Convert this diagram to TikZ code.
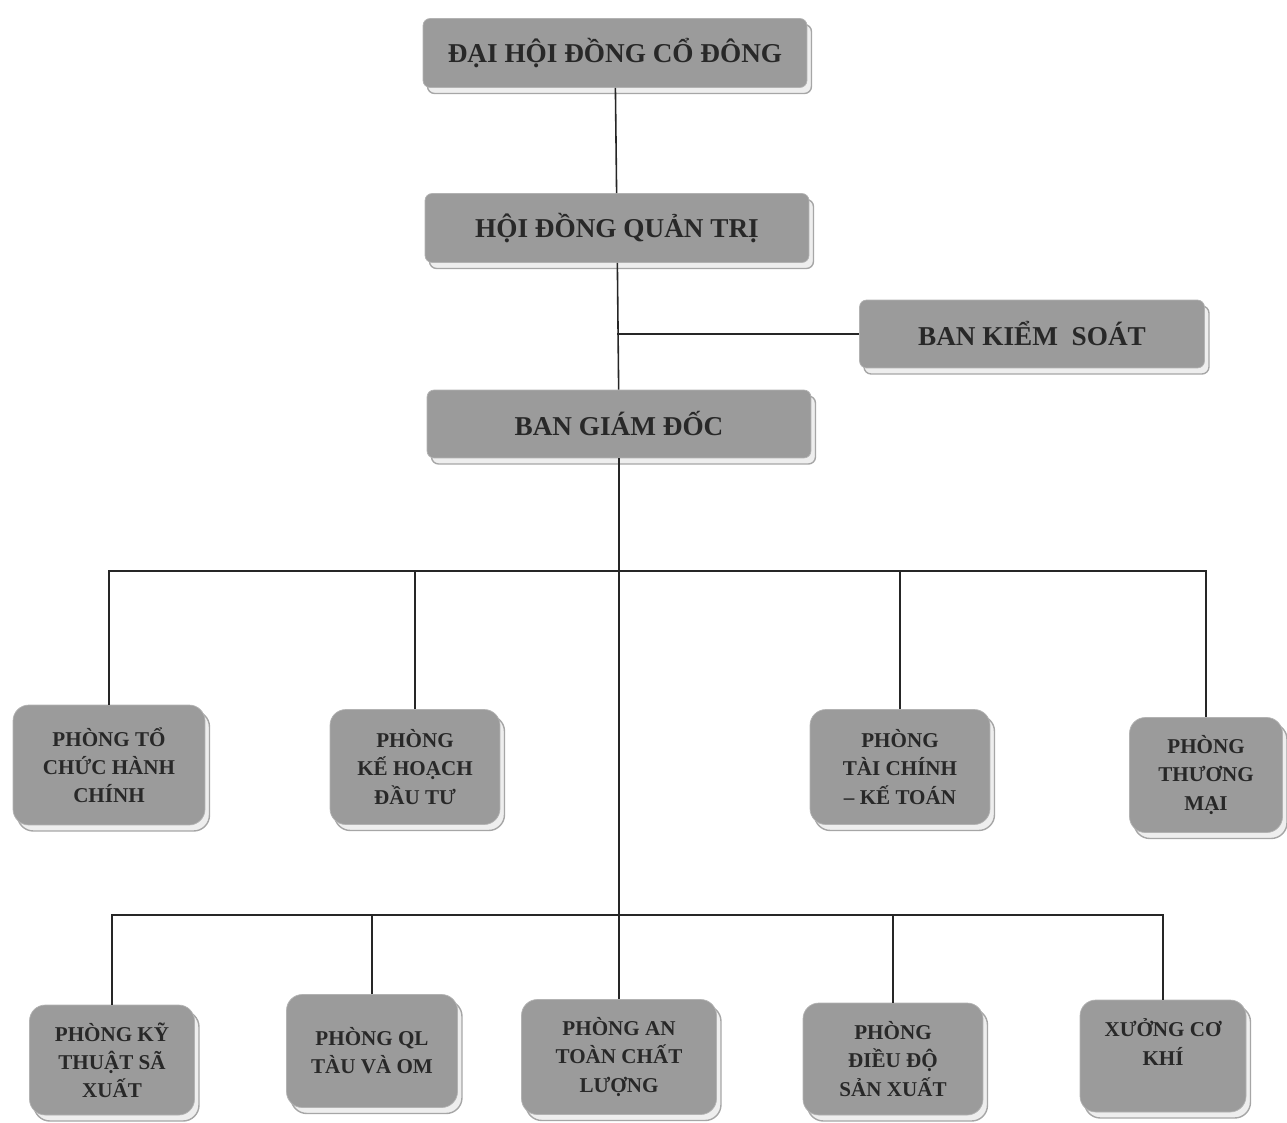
\documentclass[tikz,border=0pt]{standalone}
\usepackage{fontspec}
\setmainfont{Liberation Serif}
\usetikzlibrary{%
	calc,%
	shadows,%
	positioning,%
}
\definecolor{cboxgray}{RGB}{155, 155, 155}
\definecolor{ctext}{RGB}{40, 40, 40}
\definecolor{cshadow}{RGB}{238, 238, 238}
\tikzset{
	nodes={align=center},%
	unit/.style={%
			draw=gray!60,%
			rectangle,%
			rounded corners=4pt,%
			fill=cboxgray,%
			text=ctext,%
			font={\bfseries},%
			copy shadow={shadow xshift=0.09cm, shadow yshift=-0.12cm,%
					fill=cshadow, draw=gray!70, line width=0.8pt}},%
	headunit/.style={%
			unit,%
			minimum height=1.38cm,%
			font={\fontsize{15.5}{19}\selectfont\bfseries}},%
	deptunit/.style={%
			unit,%
			rounded corners=9pt,%
			font={\fontsize{12}{16}\selectfont\bfseries}},%
	link/.style={%
			draw=black!85,%
			line width=0.9pt},%
}

\begin{document}
\begin{tikzpicture}[x=0.02cm, y=-0.02cm]%
	\useasboundingbox (0,0) rectangle (1287,1122);

	% top of the chart
	\node[headunit, minimum width=7.68cm] (dhdcd) at (615,53) {ĐẠI HỘI ĐỒNG CỔ ĐÔNG};
	\node[headunit, minimum width=7.68cm] (hdqt) at (617,228) {HỘI ĐỒNG QUẢN TRỊ};
	\node[headunit, minimum width=6.9cm, minimum height=1.36cm] (bks) at (1032,334) {BAN KIỂM\ \ SOÁT};
	\node[headunit, minimum width=7.68cm, minimum height=1.36cm] (bgd) at (619,424) {BAN GIÁM ĐỐC};

	% first row of departments
	\node[deptunit, minimum width=3.84cm, minimum height=2.4cm] (tchc) at (109,765) {PHÒNG TỔ\\CHỨC HÀNH\\CHÍNH};
	\node[deptunit, minimum width=3.4cm, minimum height=2.3cm] (khdt) at (415,767) {PHÒNG\\KẾ HOẠCH\\ĐẦU TƯ};
	\node[deptunit, minimum width=3.6cm, minimum height=2.3cm] (tckt) at (900,767) {PHÒNG\\TÀI CHÍNH\\– KẾ TOÁN};
	\node[deptunit, minimum width=3.06cm, minimum height=2.3cm] (tm) at (1206,775) {PHÒNG\\THƯƠNG\\MẠI};

	% second row of departments
	\node[deptunit, minimum width=3.3cm, minimum height=2.2cm] (ktsx) at (112,1060) {PHÒNG KỸ\\THUẬT SÃ\\XUẤT};
	\node[deptunit, minimum width=3.42cm, minimum height=2.26cm] (qltau) at (372,1051) {PHÒNG QL\\TÀU VÀ OM};
	\node[deptunit, minimum width=3.9cm, minimum height=2.3cm] (atcl) at (619,1057) {PHÒNG AN\\TOÀN CHẤT\\LƯỢNG};
	\node[deptunit, minimum width=3.6cm, minimum height=2.24cm] (ddsx) at (893,1059) {PHÒNG\\ĐIỀU ĐỘ\\SẢN XUẤT};
	\node[deptunit, minimum width=3.32cm, minimum height=2.24cm] (xck) at (1163,1056) {XƯỞNG CƠ\\KHÍ\\[0pt]};

	\coordinate (busA) at (619,571);
	\coordinate (busB) at (619,915);

	\draw[link] (dhdcd) to (hdqt);
	\draw[link] (hdqt) to (bgd);
	\draw[link] (bks.west) to (bks.west -| hdqt.south);
	\draw[link] (bgd) to (atcl);
	\draw[link] (tchc.north) to (tchc.north |- busA) -| (tm.north);
	\draw[link] (khdt.north) to (khdt.north |- busA);
	\draw[link] (tckt.north) to (tckt.north |- busA);
	\draw[link] (ktsx.north) to (ktsx.north |- busB) -| (xck.north);
	\draw[link] (qltau.north) to (qltau.north |- busB);
	\draw[link] (ddsx.north) to (ddsx.north |- busB);
\end{tikzpicture}
\end{document}
